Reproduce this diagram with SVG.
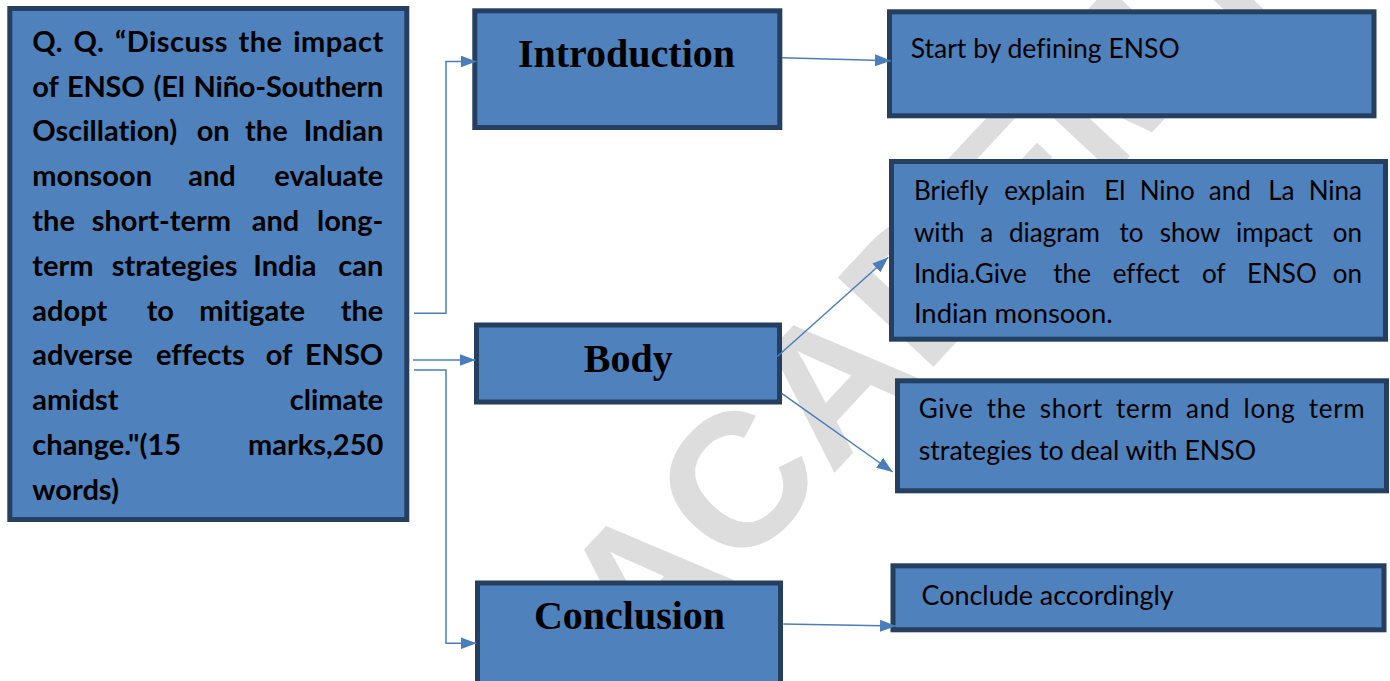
<svg xmlns="http://www.w3.org/2000/svg" width="1390" height="681" viewBox="0 0 1390 681">
  <style>
    .box { fill: #4f81bd; stroke: #243f60; stroke-width: 5; }
    .q { font-family: Lato, "Liberation Sans", sans-serif; font-weight: 700; font-size: 29px; fill: #000; font-variant-ligatures: none; }
    .t { font-family: Lato, "Liberation Sans", sans-serif; font-size: 26px; fill: #000; font-variant-ligatures: none; }
    .h { font-family: "Liberation Serif", "DejaVu Serif", serif; font-weight: 700; font-size: 40px; fill: #000; text-anchor: middle; }
    .e { text-anchor: end; }
    .link { fill: none; stroke: #4a7ebb; stroke-width: 1.5; marker-end: url(#arrow); }
    .wm { font-family: "Liberation Sans", Arial, sans-serif; font-weight: 700; font-size: 190px; fill: #dddddd; }
  </style>
  <defs>
    <marker id="arrow" markerUnits="userSpaceOnUse" markerWidth="16" markerHeight="12" refX="16" refY="6" orient="auto">
      <path d="M0,0 L16,6 L0,12 z" fill="#4a7ebb"/>
    </marker>
  </defs>

  <rect width="1390" height="681" fill="#ffffff"/>

  <!-- background watermark -->
  <text class="wm" transform="translate(644,677) rotate(-47)" x="0" y="0">ACADEMY</text>

  <!-- question -->
  <g id="question">
    <rect class="box" x="9.8" y="8.5" width="397" height="511"/>
    <text class="q" x="32.3" y="51.7" textLength="351" lengthAdjust="spacing" word-spacing="3">Q. Q. “Discuss the impact</text>
    <text class="q" x="32.3" y="96.5" textLength="351" lengthAdjust="spacing" word-spacing="2">of ENSO (El Niño-Southern</text>
    <text class="q" y="141.3"><tspan x="32.3">Oscillation)</tspan><tspan x="196.7">on</tspan><tspan x="245">the</tspan></text>
    <text class="q e" x="383.3" y="141.3">Indian</text>
    <text class="q" y="186.1"><tspan x="32.3">monsoon</tspan><tspan x="188.3">and</tspan></text>
    <text class="q e" x="383.3" y="186.1">evaluate</text>
    <text class="q" y="230.9"><tspan x="32.3">the</tspan><tspan x="91.7">short-term</tspan><tspan x="251.7">and</tspan></text>
    <text class="q e" x="383.3" y="230.9">long-</text>
    <text class="q" y="275.7"><tspan x="32.3">term</tspan><tspan x="111.7">strategies</tspan><tspan x="253.3">India</tspan></text>
    <text class="q e" x="383.3" y="275.7">can</text>
    <text class="q" y="320.5"><tspan x="32.3">adopt</tspan><tspan x="146.7">to</tspan><tspan x="199.3">mitigate</tspan></text>
    <text class="q e" x="383.3" y="320.5">the</text>
    <text class="q" y="365.3"><tspan x="32.3">adverse</tspan><tspan x="156">effects</tspan><tspan x="265.7">of</tspan></text>
    <text class="q e" x="383.3" y="365.3">ENSO</text>
    <text class="q" x="32.3" y="410.1">amidst</text>
    <text class="q e" x="383.3" y="410.1">climate</text>
    <text class="q" x="32.3" y="454.9">change."(15</text>
    <text class="q e" x="383.3" y="454.9">marks,250</text>
    <text class="q" x="32.3" y="499.7">words)</text>
  </g>

  <g id="introduction">
    <rect class="box" x="474.8" y="10.8" width="305" height="116.7"/>
    <text class="h" x="626.5" y="66.7">Introduction</text>
  </g>

  <g id="body">
    <rect class="box" x="476.5" y="325" width="303" height="77"/>
    <text class="h" x="628.3" y="371.7">Body</text>
  </g>

  <g id="conclusion">
    <rect class="box" x="477.5" y="583" width="303" height="120"/>
    <text class="h" x="629.5" y="629.3">Conclusion</text>
  </g>

  <g id="define">
    <rect class="box" x="889.5" y="11.8" width="484.5" height="104"/>
    <text class="t" x="910.7" y="58.3" textLength="269" lengthAdjust="spacingAndGlyphs">Start by defining ENSO</text>
  </g>

  <g id="explain">
    <rect class="box" x="891.5" y="161.5" width="494" height="177.7"/>
    <text class="t" y="200"><tspan x="913.9">Briefly</tspan><tspan x="1004.3">explain</tspan><tspan x="1104.3">El</tspan><tspan x="1139.7">Nino</tspan><tspan x="1208.8">and</tspan><tspan x="1268.2">La</tspan></text>
    <text class="t e" x="1362" y="200">Nina</text>
    <text class="t" y="241.7"><tspan x="913.9">with</tspan><tspan x="980.2">a</tspan><tspan x="1009">diagram</tspan><tspan x="1119.6">to</tspan><tspan x="1159.8">show</tspan><tspan x="1236">impact</tspan></text>
    <text class="t e" x="1362" y="241.7">on</text>
    <text class="t" y="283.3"><tspan x="913.9">India.Give</tspan><tspan x="1053.3">the</tspan><tspan x="1112.7">effect</tspan><tspan x="1202">of</tspan><tspan x="1247">ENSO</tspan></text>
    <text class="t e" x="1362" y="283.3">on</text>
    <text class="t" x="913.9" y="323.3" textLength="198.8" lengthAdjust="spacingAndGlyphs">Indian monsoon.</text>
  </g>

  <g id="strategies">
    <rect class="box" x="897.5" y="380.8" width="489" height="110"/>
    <text class="t" x="918.7" y="418.3" textLength="446" lengthAdjust="spacing" word-spacing="6">Give the short term and long term</text>
    <text class="t" x="918.7" y="460" textLength="337.5" lengthAdjust="spacingAndGlyphs">strategies to deal with ENSO</text>
  </g>

  <g id="conclude">
    <rect class="box" x="893" y="565.8" width="491" height="64"/>
    <text class="t" x="921.5" y="605" textLength="252.2" lengthAdjust="spacingAndGlyphs">Conclude accordingly</text>
  </g>

  <g id="connectors">
    <polyline class="link" points="414,313.3 446,313.3 446,61.5 476.5,61.5"/>
    <line class="link" x1="413" y1="360" x2="475.5" y2="360"/>
    <polyline class="link" points="414,370 446,370 446,643.3 476.5,643.3"/>
    <line class="link" x1="782" y1="57.7" x2="891" y2="60.7"/>
    <line class="link" x1="777" y1="356.7" x2="888.3" y2="257.3"/>
    <line class="link" x1="781.7" y1="393.3" x2="892.7" y2="472"/>
    <line class="link" x1="783.3" y1="624" x2="896" y2="626"/>
  </g>
</svg>
